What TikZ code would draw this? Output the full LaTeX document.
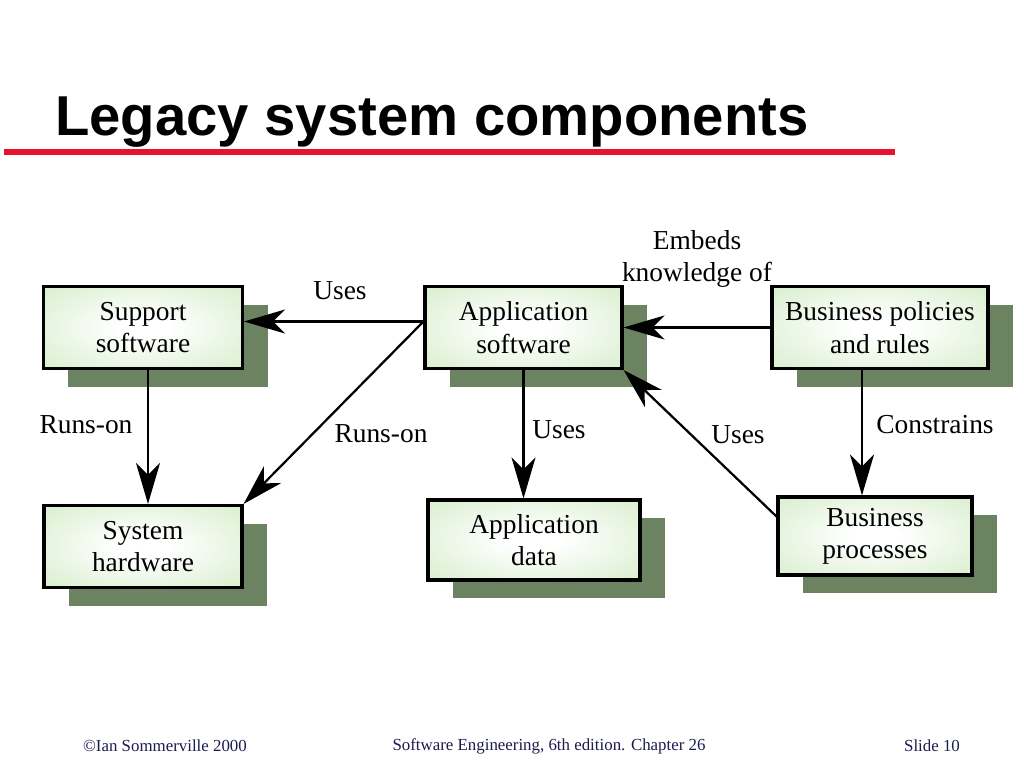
\documentclass[tikz,border=0pt]{standalone}
\usepackage{fontspec}
\setmainfont{Liberation Serif}
\newfontfamily\titlefont{Liberation Sans}
\usetikzlibrary{arrows.meta, shadows}

\definecolor{boxgreen}{RGB}{204,233,190}
\definecolor{shadowgreen}{RGB}{107,131,96}
\definecolor{slidered}{RGB}{230,18,48}
\definecolor{footblue}{RGB}{28,28,80}
\pgfdeclareradialshading{boxshade}{\pgfpoint{0bp}{0bp}}{color(0bp)=(white); color(6bp)=(white); color(45bp)=(boxgreen); color(75bp)=(boxgreen)}

\begin{document}
\begin{tikzpicture}[x=0.25mm, y=-0.25mm]

\tikzset{box/.style = {rectangle, draw, line width=2.2pt, shading=boxshade, align=center, font=\fontsize{19.5}{23}\selectfont, drop shadow={shadow xshift=6.25mm, shadow yshift=-4.5mm, fill=shadowgreen, opacity=1}}}
\tikzset{edge/.style = {->, > = {Stealth[length=10.25mm, width=6mm, inset=3mm]}, line width=1.6pt}}
\tikzset{tag/.style = {font=\fontsize{19.5}{23}\selectfont, align=center, inner sep=0pt}}
\tikzset{foot/.style = {font=\fontsize{12}{14}\selectfont, text=footblue}}

\useasboundingbox (0,0) rectangle (1024,768);
\fill[white] (0,0) rectangle (1024,768);

%title
\node[anchor=base west, font=\titlefont\bfseries\fontsize{40}{48}\selectfont, inner sep=0pt] (title) at (55,135) {Legacy system components};
\draw[slidered, line width=4pt] (4,152) -- (895,152);

%boxes
\node[box, minimum width=49.75mm, minimum height=20.5mm] (support) at (143,327.5) {Support\\software};
\node[box, minimum width=49.25mm, minimum height=20.5mm] (app) at (523.5,327.5) {Application\\software};
\node[box, minimum width=54mm, minimum height=20.5mm] (policies) at (880,327.5) {Business policies\\and rules};
\node[box, minimum width=49.5mm, minimum height=20.5mm] (hw) at (143,546.5) {System\\hardware};
\node[box, minimum width=53mm, minimum height=20mm] (data) at (534,540) {Application\\data};
\node[box, minimum width=48.5mm, minimum height=19.5mm] (procs) at (875,536) {Business\\processes};

%edge labels
\node[tag] (usesSup) at (340,291) {Uses};
\node[tag] (runsSup) at (86,425) {Runs-on};
\node[tag] (runsApp) at (381,434) {Runs-on};
\node[tag] (usesData) at (559,430) {Uses};
\node[tag] (usesProc) at (738,435) {Uses};
\node[tag] (constrains) at (935,425) {Constrains};
\node[tag] (embeds) at (697,259) {Embeds\\knowledge of};

%edges
\draw [edge] ([yshift=1.5mm]app.west) -- ([yshift=1.5mm]support.east);
\draw [edge] ([yshift=1.5mm]app.west) -- (hw.north east);
\draw [edge] ([xshift=1.25mm]support.south) -- ([xshift=1.25mm]hw.north);
\draw [edge] (policies.west) -- (app.east);
\draw [edge] (app.south) -- (app.south |- data.north);
\draw [edge] ([yshift=-5.25mm]procs.north west) -- (app.south east);
\draw [edge] ([xshift=-3.25mm]procs.north |- policies.south) -- ([xshift=-3.25mm]procs.north);

%footer
\node[foot] (copy) at (165,746) {©Ian Sommerville 2000};
\node[foot] (book) at (549,746) {Software Engineering, 6th edition. Chapter 26};
\node[foot] (slide) at (932,746) {Slide 10};

\end{tikzpicture}
\end{document}
